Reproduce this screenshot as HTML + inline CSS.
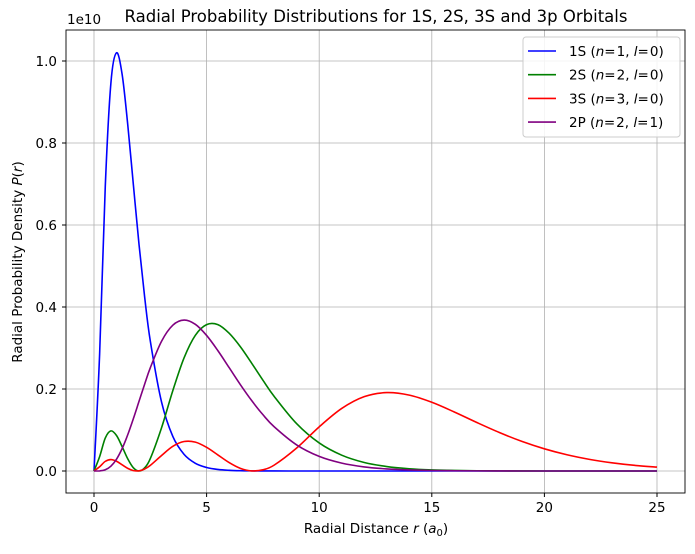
<!DOCTYPE html>
<html><head><meta charset="utf-8"><style>
body{margin:0;background:#fff;width:695px;height:549px;overflow:hidden}
svg{font-family:"DejaVu Sans","Liberation Sans",sans-serif}
</style></head><body>
<svg id="chart" width="695" height="549" xmlns="http://www.w3.org/2000/svg">
<text x="376" y="22" text-anchor="middle" font-size="16.5">Radial Probability Distributions for 1S, 2S, 3S and 3p Orbitals</text>
<g id="grid"></g>
<g id="series"></g>
<rect x="66" y="30" width="619" height="463" fill="none" stroke="#000" stroke-width="0.9"/>
<g id="axes" font-size="13.5"></g>
<text x="67" y="24" font-size="13.5">1e10</text>
<text x="376" y="533" text-anchor="middle" font-size="13.5">Radial Distance <tspan font-style="italic">r</tspan> (<tspan font-style="italic">a</tspan><tspan font-size="10" dy="3">0</tspan><tspan dy="-3">)</tspan></text>
<text transform="translate(22,262) rotate(-90)" text-anchor="middle" font-size="13.5">Radial Probability Density <tspan font-style="italic">P</tspan>(<tspan font-style="italic">r</tspan>)</text>
<g id="legend" font-size="13.5">
<rect x="523" y="37" width="157" height="100" rx="3" fill="#fff" fill-opacity="0.85" stroke="#ccc"/>
</g>
</svg>
<script>
const rVals=[0,0.25,0.5,0.75,1,1.25,1.5,1.75,2,2.25,2.5,3,3.5,4,4.5,5,5.5,6,6.5,7,7.5,8,9,10,11,12,13,14,15,16,17,18,19,20,21,22,23,24,25];
const s1=[0,0.2857,0.693,0.946,1.020,0.967,0.844,0.697,0.552,0.424,0.317,0.168,0.0842,0.0405,0.0188,0.00855,0.0038,0.0017,0.0007,0.0003,0.0001,0.00005,0,0,0,0,0,0,0,0,0,0,0,0,0,0,0,0,0];
const s2=[0,0.0351,0.0803,0.0978,0.0866,0.0593,0.0296,0.0078,0,0.00785,0.0302,0.1055,0.196,0.276,0.331,0.357,0.357,0.336,0.303,0.263,0.2216,0.182,0.1153,0.0684,0.0386,0.0208,0.0109,0.0055,0.0027,0.0013,0.0006,0.0003,0.0001,0,0,0,0,0,0];
const s3=[0,0.01037,0.02348,0.02794,0.02379,0.01512,0.00642,0.00096,0.0004,0.00493,0.01367,0.0378,0.0602,0.0719,0.0704,0.0577,0.0392,0.0205,0.0064,0.0002,0.0029,0.0143,0.0560,0.1077,0.1525,0.1813,0.1912,0.1850,0.1676,0.1439,0.1183,0.0939,0.0722,0.0541,0.0396,0.0284,0.0200,0.0138,0.0095];
const s4=[0,0.00024,0.00298,0.01173,0.0289,0.0549,0.0887,0.128,0.170,0.212,0.2517,0.3166,0.3557,0.3681,0.3577,0.3306,0.2936,0.2522,0.2106,0.1719,0.1374,0.1079,0.0636,0.0356,0.0192,0.0100,0.0051,0.0025,0.0012,0.0006,0.0003,0.0001,0,0,0,0,0,0,0];
const seriesNames=["1S","2S","3S","2P"];
const seriesLabels=["(n = 1, l = 0)","(n = 2, l = 0)","(n = 3, l = 0)","(n = 2, l = 1)"];
const seriesColors=["#0000ff","#008000","#ff0000","#800080"];
const xTicks=[0,5,10,15,20,25];
const yTicks=[0,0.2,0.4,0.6,0.8,1.0];
const yTickLabels=["0.0","0.2","0.4","0.6","0.8","1.0"];

const NS="http://www.w3.org/2000/svg";
const X=v=>94+v*22.52, Y=v=>471-v*410;
function mk(tag,attrs,parent){const e=document.createElementNS(NS,tag);for(const k in attrs)e.setAttribute(k,attrs[k]);parent.appendChild(e);return e;}
const grid=document.getElementById('grid'),axes=document.getElementById('axes'),ser=document.getElementById('series'),leg=document.getElementById('legend');
xTicks.forEach(t=>{
 const g=mk('line',{x1:X(t),x2:X(t),y1:30,y2:493,stroke:'#b0b0b0','stroke-width':0.8},grid);
 
 
 const tk=mk('line',{x1:X(t),x2:X(t),y1:493,y2:497,stroke:'#000'},axes);
 
 
 const tx=mk('text',{x:X(t),y:512,'text-anchor':'middle'},axes);tx.textContent=t;
 
 
});
yTicks.forEach((t,i)=>{
 const g=mk('line',{x1:66,x2:685,y1:Y(t),y2:Y(t),stroke:'#b0b0b0','stroke-width':0.8},grid);
 
 
 const tk=mk('line',{x1:62,x2:66,y1:Y(t),y2:Y(t),stroke:'#000'},axes);
 
 
 const tx=mk('text',{x:57,y:Y(t)+5,'text-anchor':'end'},axes);tx.textContent=yTickLabels[i];
 
 
});
function pathFor(vals){
 const p=rVals.map((r,i)=>[X(r),Y(vals[i])]);
 let d=`M${p[0][0]},${p[0][1]}`;
 for(let i=0;i<p.length-1;i++){
  const p0=p[i-1]||p[i],p1=p[i],p2=p[i+1],p3=p[i+2]||p2;
  let c1y=p1[1]+(p2[1]-p0[1])/6,c2y=p2[1]-(p3[1]-p1[1])/6;
  c1y=Math.min(c1y,471);c2y=Math.min(c2y,471);
  d+=` C${p1[0]+(p2[0]-p0[0])/6},${c1y} ${p2[0]-(p3[0]-p1[0])/6},${c2y} ${p2[0]},${p2[1]}`;
 }
 return d;
}
[s1,s2,s3,s4].forEach((vals,i)=>{
 const pa=mk('path',{d:pathFor(vals),fill:'none',stroke:seriesColors[i],'stroke-width':1.6},ser);
 
 
 const y=51+i*23.7;
 const ln=mk('line',{x1:528,x2:556,y1:y,y2:y,stroke:seriesColors[i],'stroke-width':1.6},leg);
 
 
 const tx=mk('text',{x:569,y:y+5},leg);
 const m=seriesLabels[i].match(/\(n = (\d), l = (\d)\)/);
 tx.innerHTML=seriesNames[i]+' (<tspan font-style="italic">n</tspan>=<tspan dx="1">'+m[1]+'</tspan>, <tspan font-style="italic">l</tspan>=<tspan dx="1">'+m[2]+'</tspan>)';
 
 
});
</script>
</body></html>
